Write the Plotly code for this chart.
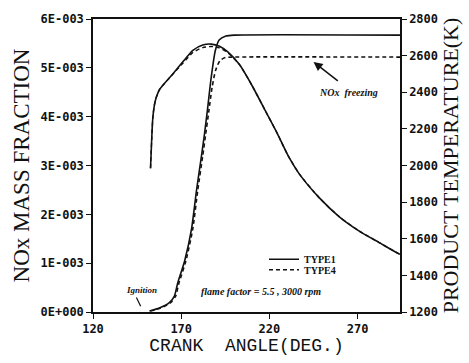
import plotly.graph_objects as go

# ---------------- data ----------------
temp_angle = [152.6, 153.3, 153.9, 154.8, 155.8, 157.7, 165.2, 170.9, 176.6, 182.2, 187.0,
              191.7, 196.4, 203.0, 210.5, 218.1, 224.7, 230.5, 237.0, 248.3, 259.6, 270.9,
              282.2, 292.5, 294.0]
temp_type1 = [1985, 2150, 2260, 2330, 2370, 2415, 2500, 2566, 2629, 2658, 2663,
              2651, 2620, 2551, 2430, 2291, 2170, 2055, 1953, 1823, 1720, 1642,
              1579, 1522, 1515]
temp_type4 = [1985, 2150, 2260, 2330, 2370, 2415, 2498, 2558, 2617, 2644, 2650,
              2642, 2616, 2551, 2430, 2291, 2170, 2055, 1953, 1823, 1720, 1642,
              1579, 1522, 1515]

nox_angle1 = [152.0, 157.6, 163.3, 166.2, 167.9, 171.9, 175.8, 178.7, 181.5, 183.2,
              184.9, 186.8, 189.3, 191.5, 195.3, 200.0, 294.0]
nox_type1 = [0.02e-3, 0.08e-3, 0.19e-3, 0.33e-3, 0.58e-3, 1.04e-3, 1.69e-3, 2.50e-3,
             3.20e-3, 3.65e-3, 4.15e-3, 4.75e-3, 5.35e-3, 5.57e-3, 5.65e-3, 5.67e-3, 5.67e-3]
nox_angle4 = [152.5, 158.3, 164.0, 166.9, 168.6, 172.6, 176.5, 179.4, 182.2, 183.9,
              185.6, 187.5, 189.5, 192.0, 195.0, 199.0, 294.0]
nox_type4 = [0.02e-3, 0.08e-3, 0.19e-3, 0.33e-3, 0.58e-3, 1.04e-3, 1.69e-3, 2.50e-3,
             3.20e-3, 3.65e-3, 4.10e-3, 4.60e-3, 4.95e-3, 5.15e-3, 5.21e-3, 5.22e-3, 5.22e-3]

x_ticks = [120, 170, 220, 270]
y_ticks = [0, 1e-3, 2e-3, 3e-3, 4e-3, 5e-3, 6e-3]
y_ticktext = ["0E+000", "1E-003", "2E-003", "3E-003", "4E-003", "5E-003", "6E-003"]
y2_ticks = [1200, 1400, 1600, 1800, 2000, 2200, 2400, 2600, 2800]

# ---------------- figure ----------------
BLK = "#111111"
fig = go.Figure()
fig.add_trace(go.Scatter(x=nox_angle1, y=nox_type1, mode="lines", name="TYPE1", legend="legend",
                         line=dict(color=BLK, width=1.6, shape="spline", smoothing=0.6)))
fig.add_trace(go.Scatter(x=nox_angle4, y=nox_type4, mode="lines", name="TYPE4", legend="legend2",
                         line=dict(color=BLK, width=1.6, dash="4px,3px", shape="spline", smoothing=0.6)))
fig.add_trace(go.Scatter(x=temp_angle, y=temp_type1, mode="lines", name="TYPE1 T", yaxis="y2",
                         showlegend=False,
                         line=dict(color=BLK, width=1.6, shape="spline", smoothing=0.6)))
fig.add_trace(go.Scatter(x=temp_angle, y=temp_type4, mode="lines", name="TYPE4 T", yaxis="y2",
                         showlegend=False,
                         line=dict(color=BLK, width=1.4, dash="4px,3px", shape="spline", smoothing=0.6)))

tickfont = dict(family="DejaVu Sans Mono", size=12, color=BLK, weight="bold")
legfont = dict(family="Liberation Serif", size=10, color=BLK, weight="bold")
fig.update_layout(
    width=469, height=363,
    margin=dict(l=93, r=69, t=12, b=43),
    paper_bgcolor="white", plot_bgcolor="white",
    showlegend=True,
    legend=dict(x=0.557, y=0.180, xanchor="left", yanchor="middle", bgcolor="rgba(0,0,0,0)",
                font=legfont, itemwidth=30, borderwidth=0),
    legend2=dict(x=0.557, y=0.144, xanchor="left", yanchor="middle", bgcolor="rgba(0,0,0,0)",
                 font=legfont, itemwidth=30, borderwidth=0),
    xaxis=dict(range=[120, 294], tickvals=x_ticks, ticks="outside", ticklen=5, tickwidth=1.2,
               tickcolor=BLK, showline=True, linecolor=BLK, linewidth=1.5, mirror=True,
               showgrid=False, zeroline=False, tickfont=tickfont,
               title=dict(text="CRANK  ANGLE(DEG.)", standoff=2,
                          font=dict(family="Liberation Mono", size=18, color=BLK))),
    yaxis=dict(range=[0, 6e-3], tickvals=y_ticks, ticktext=y_ticktext, ticks="outside",
               ticklen=5, tickwidth=1.2, tickcolor=BLK, showline=True, linecolor=BLK,
               linewidth=1.5, showgrid=False, zeroline=False, tickfont=tickfont,
               title=dict(text="NOx MASS FRACTION", standoff=4,
                          font=dict(family="Liberation Serif", size=23, color=BLK))),
    yaxis2=dict(range=[1200, 2800], tickvals=y2_ticks, overlaying="y", side="right",
                ticks="outside", ticklen=5, tickwidth=1.2, tickcolor=BLK, showline=True,
                linecolor=BLK, linewidth=1.5, showgrid=False, zeroline=False,
                tickfont=tickfont,
                title=dict(text="PRODUCT TEMPERATURE(K)", standoff=2,
                           font=dict(family="Liberation Serif", size=22, color=BLK))),
)

note_font = dict(family="Liberation Serif", size=9, color=BLK, weight="bold", style="italic")
fig.add_annotation(x=147.6, y=0.45e-3, text="Ignition", showarrow=False, font=note_font)
fig.add_annotation(x=147.0, y=0.12e-3, ax=144.2, ay=0.33e-3, axref="x", ayref="y",
                   showarrow=True, arrowhead=0, arrowwidth=1.2, arrowcolor=BLK, text="")
fig.add_annotation(x=264.8, y=4.50e-3, text="NOx  freezing", showarrow=False,
                   font=dict(family="Liberation Serif", size=10, color=BLK, weight="bold", style="italic"))
fig.add_annotation(x=245.0, y=5.12e-3, ax=259.6, ay=4.71e-3, axref="x", ayref="y",
                   showarrow=True, arrowhead=2, arrowsize=1.2, arrowwidth=1.5, arrowcolor=BLK, text="")
fig.add_annotation(x=215.0, y=0.43e-3, text="flame factor = 5.5 , 3000 rpm", showarrow=False,
                   font=dict(family="Liberation Serif", size=10, color=BLK, weight="bold", style="italic"))

fig.write_html("out.html")
